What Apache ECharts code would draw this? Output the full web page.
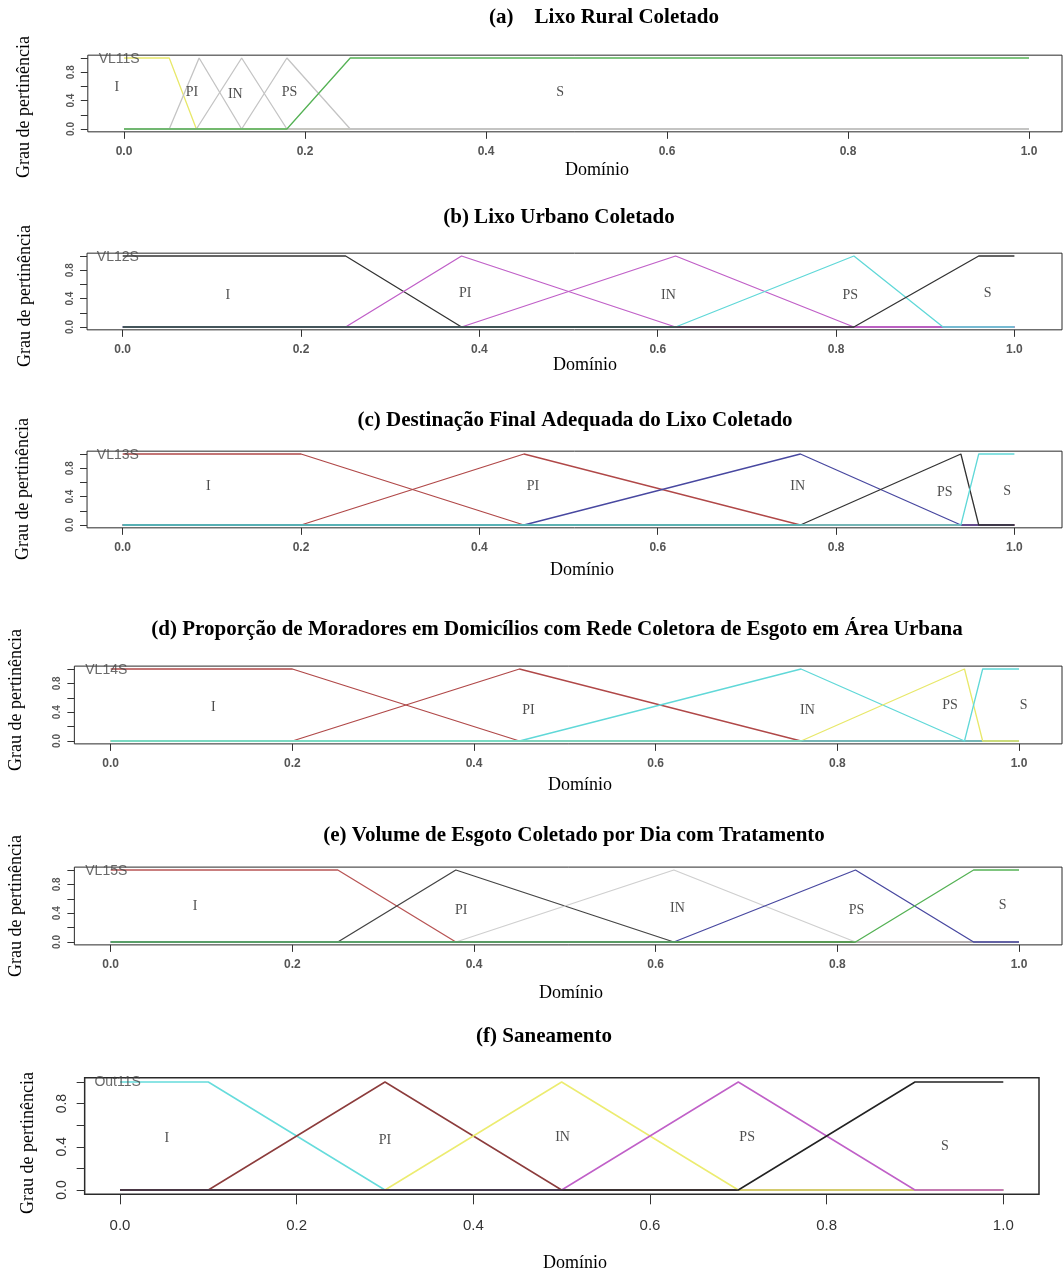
<!DOCTYPE html>
<html>
<head>
<meta charset="utf-8">
<script src="https://cdn.jsdelivr.net/npm/echarts@6/dist/echarts.min.js"></script>
<style>
  html, body { margin: 0; padding: 0; background: #fff; }
  #main { width: 1063px; height: 1272px; }
</style>
</head>
<body>
<div id="main"></div>
<script>
  // rótulos dos conjuntos fuzzy e marcas dos eixos
  var setLabels = ['I', 'PI', 'IN', 'PS', 'S'];
  var xTicks = [0, 0.2, 0.4, 0.6, 0.8, 1.0];
  var yTicks = [0, 0.2, 0.4, 0.6, 0.8, 1.0];
  var yTickLabels = [0, 0.4, 0.8];

  var panelTitles = [
    '(a)    Lixo Rural Coletado',
    '(b) Lixo Urbano Coletado',
    '(c) Destinação Final Adequada do Lixo Coletado',
    '(d) Proporção de Moradores em Domicílios com Rede Coletora de Esgoto em Área Urbana',
    '(e) Volume de Esgoto Coletado por Dia com Tratamento',
    '(f) Saneamento'
  ];
  var varNames = ['VL11S', 'VL12S', 'VL13S', 'VL14S', 'VL15S', 'Out11S'];

  // funções de pertinência [domínio, grau] — ordem I, PI, IN, PS, S
  var vl11s = [
    [[0, 1], [0.05, 1], [0.08, 0], [1, 0]],
    [[0, 0], [0.05, 0], [0.083, 1], [0.13, 0], [1, 0]],
    [[0, 0], [0.08, 0], [0.13, 1], [0.18, 0], [1, 0]],
    [[0, 0], [0.13, 0], [0.18, 1], [0.25, 0], [1, 0]],
    [[0, 0], [0.18, 0], [0.25, 1], [1, 1]]
  ];
  var vl12s = [
    [[0, 1], [0.25, 1], [0.38, 0], [1, 0]],
    [[0, 0], [0.25, 0], [0.38, 1], [0.62, 0], [1, 0]],
    [[0, 0], [0.38, 0], [0.62, 1], [0.82, 0], [1, 0]],
    [[0, 0], [0.62, 0], [0.82, 1], [0.92, 0], [1, 0]],
    [[0, 0], [0.82, 0], [0.96, 1], [1, 1]]
  ];
  var vl13s = [
    [[0, 1], [0.2, 1], [0.45, 0], [1, 0]],
    [[0, 0], [0.2, 0], [0.45, 1], [0.76, 0], [1, 0]],
    [[0, 0], [0.45, 0], [0.76, 1], [0.94, 0], [1, 0]],
    [[0, 0], [0.76, 0], [0.94, 1], [0.96, 0], [1, 0]],
    [[0, 0], [0.94, 0], [0.96, 1], [1, 1]]
  ];
  var vl14s = [
    [[0, 1], [0.2, 1], [0.45, 0], [1, 0]],
    [[0, 0], [0.2, 0], [0.45, 1], [0.76, 0], [1, 0]],
    [[0, 0], [0.45, 0], [0.76, 1], [0.94, 0], [1, 0]],
    [[0, 0], [0.76, 0], [0.94, 1], [0.96, 0], [1, 0]],
    [[0, 0], [0.94, 0], [0.96, 1], [1, 1]]
  ];
  var vl15s = [
    [[0, 1], [0.25, 1], [0.38, 0], [1, 0]],
    [[0, 0], [0.25, 0], [0.38, 1], [0.62, 0], [1, 0]],
    [[0, 0], [0.38, 0], [0.62, 1], [0.82, 0], [1, 0]],
    [[0, 0], [0.62, 0], [0.82, 1], [0.95, 0], [1, 0]],
    [[0, 0], [0.82, 0], [0.95, 1], [1, 1]]
  ];
  var out11s = [
    [[0, 1], [0.1, 1], [0.3, 0], [1, 0]],
    [[0, 0], [0.1, 0], [0.3, 1], [0.5, 0], [1, 0]],
    [[0, 0], [0.3, 0], [0.5, 1], [0.7, 0], [1, 0]],
    [[0, 0], [0.5, 0], [0.7, 1], [0.9, 0], [1, 0]],
    [[0, 0], [0.7, 0], [0.9, 1], [1, 1]]
  ];
  var panelData = [vl11s, vl12s, vl13s, vl14s, vl15s, out11s];

  // cores das linhas (I, PI, IN, PS, S)
  var panelColors = [
    ['#e8e86a', '#c4c4c4', '#c4c4c4', '#c4c4c4', '#55b255'],
    ['#333333', '#c060c8', '#c060c8', '#60d8d8', '#333333'],
    ['#b04848', '#b04848', '#4848a0', '#333333', '#60d8d8'],
    ['#b04848', '#b04848', '#60d8d8', '#e8e86a', '#60d8d8'],
    ['#b85555', '#444444', '#cfcfcf', '#4848a0', '#55b255'],
    ['#66dcdc', '#8c3c3c', '#ecec70', '#c060c8', '#222222']
  ];

  // layout de cada painel (pixels): posição do 0 e do 1 nos eixos
  var layout = [
    { x0: 124, k: 905, y1: 58, y0: 129, right: 1062, title: [604, 18], ylab: [24, 107], xlab: [597, 170] },
    { x0: 122.7, k: 891.7, y1: 256, y0: 327, right: 1062, title: [559, 218], ylab: [25, 296], xlab: [585, 365] },
    { x0: 122.7, k: 891.7, y1: 454, y0: 525, right: 1062, title: [575, 421], ylab: [23, 489], xlab: [582, 570] },
    { x0: 110.7, k: 908.3, y1: 669, y0: 741, right: 1062, title: [557, 630], ylab: [16, 700], xlab: [580, 785] },
    { x0: 110.7, k: 908.3, y1: 870, y0: 942, right: 1062, title: [574, 836], ylab: [16, 906], xlab: [571, 993] },
    { x0: 120, k: 883.3, y1: 1082, y0: 1190, right: 1039, title: [544, 1037], ylab: [28, 1143], xlab: [575, 1263] }
  ];
  // posição dos rótulos dentro do gráfico (coordenadas de dados)
  var labelPos = [
    [[-0.008, 0.58], [0.075, 0.51], [0.123, 0.49], [0.183, 0.51], [0.482, 0.51]],
    [[0.118, 0.45], [0.384, 0.48], [0.612, 0.45], [0.816, 0.45], [0.970, 0.48]],
    [[0.096, 0.55], [0.46, 0.55], [0.757, 0.55], [0.922, 0.46], [0.992, 0.47]],
    [[0.113, 0.47], [0.46, 0.43], [0.767, 0.43], [0.924, 0.5], [1.005, 0.5]],
    [[0.093, 0.49], [0.386, 0.44], [0.624, 0.47], [0.821, 0.44], [0.982, 0.51]],
    [[0.053, 0.48], [0.300, 0.46], [0.501, 0.49], [0.71, 0.49], [0.934, 0.40]]
  ];
  var namePos = [[-0.028, 0.99], [-0.029, 0.99], [-0.029, 0.99], [-0.028, 0.99], [-0.028, 0.99], [-0.029, 1.0]];

  var serif = '"Liberation Serif", "Times New Roman", serif';
  var sans = '"Liberation Sans", Arial, sans-serif';

  var grids = [], xAxes = [], yAxes = [], series = [], graphics = [];

  layout.forEach(function (L, i) {
    var big = (i === 5);
    var span = L.y0 - L.y1;
    var left = L.x0 - 0.04 * L.k;
    grids.push({
      left: left,
      top: L.y1 - 0.04 * span,
      width: L.right - left,
      height: 1.08 * span,
      show: true,
      borderColor: '#2a2a2a',
      borderWidth: big ? 1.5 : 1,
      backgroundColor: 'transparent'
    });
    xAxes.push({
      type: 'value',
      gridIndex: i,
      min: -0.04,
      max: (L.right - L.x0) / L.k,
      splitLine: { show: false },
      axisLine: { show: false, onZero: false },
      axisTick: {
        show: true,
        customValues: xTicks,
        length: big ? 10 : 7,
        lineStyle: { color: '#333' }
      },
      axisLabel: {
        customValues: xTicks,
        formatter: function (v) { return v.toFixed(1); },
        margin: big ? 24 : 14,
        fontSize: big ? 15 : 12,
        fontWeight: big ? 'normal' : 'bold',
        fontFamily: sans,
        color: big ? '#333' : '#555'
      }
    });
    yAxes.push({
      type: 'value',
      gridIndex: i,
      min: -0.04,
      max: 1.04,
      splitLine: { show: false },
      axisLine: { show: false, onZero: false },
      axisTick: {
        show: true,
        customValues: yTicks,
        length: big ? 8 : 7,
        lineStyle: { color: '#333' }
      },
      axisLabel: {
        customValues: yTickLabels,
        rotate: 90,
        formatter: function (v) { return v.toFixed(1); },
        margin: big ? 16 : 12,
        fontSize: big ? 14 : 10,
        fontWeight: big ? 'normal' : 'bold',
        fontFamily: sans,
        color: big ? '#333' : '#555'
      }
    });

    panelData[i].forEach(function (pts, j) {
      series.push({
        type: 'line',
        xAxisIndex: i,
        yAxisIndex: i,
        data: pts,
        symbol: 'none',
        silent: true,
        lineStyle: { color: panelColors[i][j], width: big ? 1.5 : 1.3 }
      });
    });

    // rótulos dos conjuntos
    series.push({
      type: 'scatter',
      xAxisIndex: i,
      yAxisIndex: i,
      symbolSize: 0,
      silent: true,
      data: labelPos[i].map(function (p, j) { return { value: p, name: setLabels[j] }; }),
      label: {
        show: true,
        position: 'inside',
        formatter: '{b}',
        fontFamily: serif,
        fontSize: 14,
        color: '#222'
      },
      z: 5
    });
    // nome da variável
    series.push({
      type: 'scatter',
      xAxisIndex: i,
      yAxisIndex: i,
      symbolSize: 0,
      silent: true,
      data: [{ value: namePos[i], name: varNames[i] }],
      label: {
        show: true,
        position: 'right',
        distance: 0,
        formatter: '{b}',
        fontFamily: sans,
        fontSize: 14,
        color: '#444'
      },
      z: 5
    });

    graphics.push({
      type: 'text', x: L.title[0], y: L.title[1],
      style: { text: panelTitles[i], font: 'bold 21px ' + serif, fill: '#000', align: 'center', verticalAlign: 'middle' }
    });
    graphics.push({
      type: 'text', x: L.xlab[0], y: L.xlab[1],
      style: { text: 'Domínio', font: '18px ' + serif, fill: '#000', align: 'center', verticalAlign: 'middle' }
    });
    graphics.push({
      type: 'text', x: L.ylab[0], y: L.ylab[1], rotation: Math.PI / 2,
      style: { text: 'Grau de pertinência', font: '18px ' + serif, fill: '#000', align: 'center', verticalAlign: 'middle' }
    });
  });

  var chart = echarts.init(document.getElementById('main'));
  chart.setOption({
    animation: false,
    backgroundColor: '#fff',
    grid: grids,
    xAxis: xAxes,
    yAxis: yAxes,
    series: series,
    graphic: graphics
  });
</script>
</body>
</html>
